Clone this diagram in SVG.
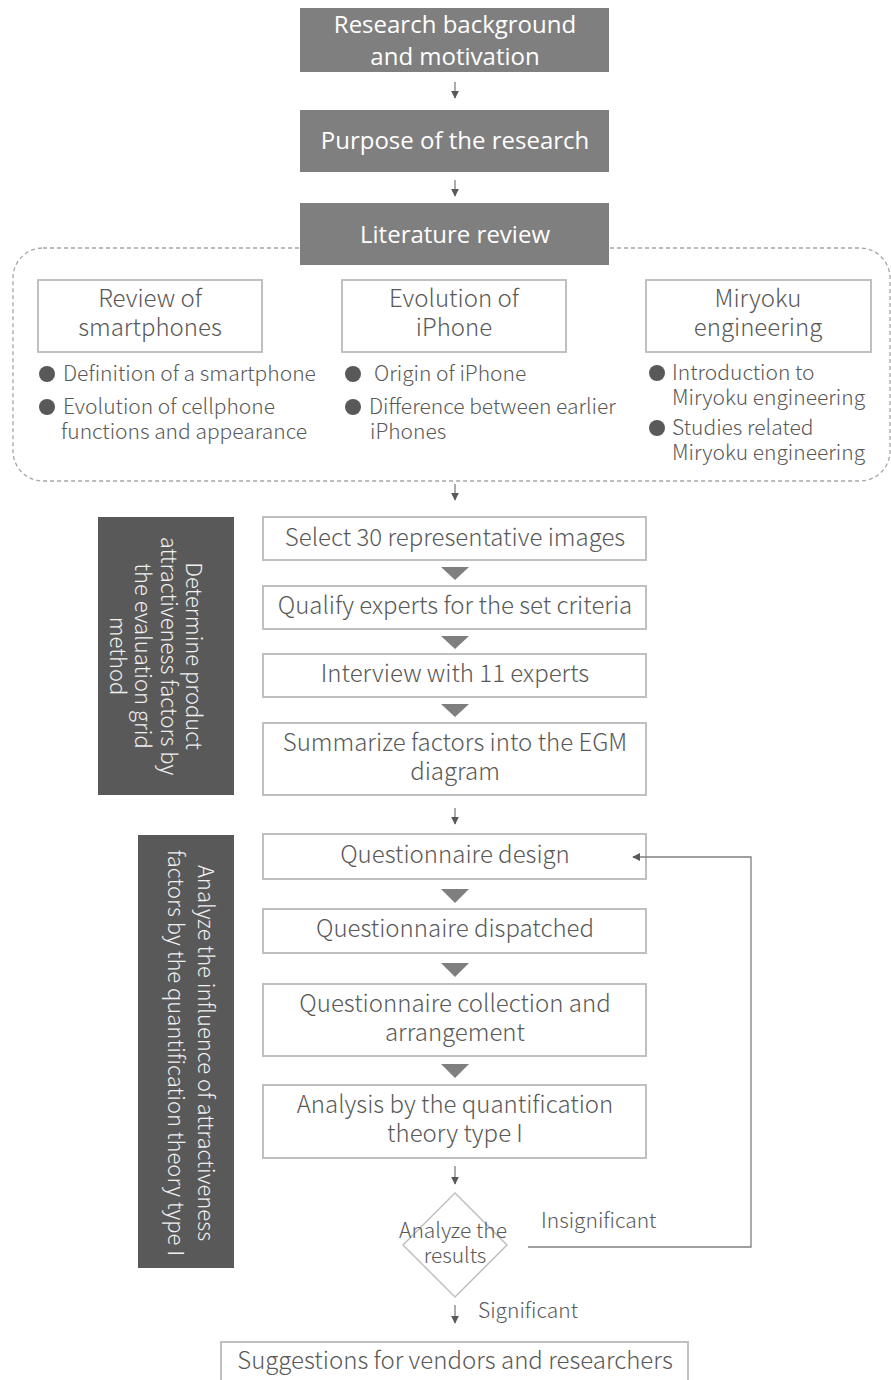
<svg xmlns="http://www.w3.org/2000/svg" width="891" height="1380" viewBox="0 0 891 1380">
<defs>
<style>
.top{fill:#7f7f7f}
.tt{fill:#fff;font-family:"Open Sans","Noto Sans",sans-serif;font-size:24px;text-anchor:middle}
.box{fill:#fff;stroke:#c0c0c0;stroke-width:2}
.bt{fill:#595959;font-family:"Noto Sans CJK SC","Noto Sans",sans-serif;font-weight:300;font-size:24px;text-anchor:middle}
.lt{fill:#595959;font-family:"Noto Sans CJK SC","Noto Sans",sans-serif;font-weight:300;font-size:21px}
.side{fill:#595959}
.st{fill:#f0f0f0;font-family:"Noto Sans CJK SC","Noto Sans",sans-serif;font-weight:300;font-size:22px;text-anchor:middle}
.dot{fill:#595959}
.tri{fill:#7f7f7f}
.ln{stroke:#7f7f7f;stroke-width:1.3;fill:none}
</style>
<marker id="ah" viewBox="0 0 10 10" refX="9" refY="5" markerWidth="8" markerHeight="8" markerUnits="userSpaceOnUse" orient="auto">
<path d="M0,0 L10,5 L0,10 z" fill="#595959"/>
</marker>
</defs>

<g id="lit-container">
<rect x="13" y="248" width="877" height="233" rx="30" ry="30" fill="none" stroke="#a6a6a6" stroke-width="1.3" stroke-dasharray="4,3"/>
</g>

<g id="n-background">
<rect class="top" x="300" y="8" width="309" height="64"/>
<text class="tt" x="455" y="33">Research background</text>
<text class="tt" x="455" y="65">and motivation</text>
</g>
<g id="n-purpose">
<rect class="top" x="300" y="110" width="309" height="62"/>
<text class="tt" x="455" y="149">Purpose of the research</text>
</g>
<g id="n-literature">
<rect class="top" x="300" y="203" width="309" height="62"/>
<text class="tt" x="455" y="243">Literature review</text>
</g>

<g id="n-review">
<rect class="box" x="38" y="280" width="224" height="72"/>
<text class="bt" x="150" y="307">Review of</text>
<text class="bt" x="150" y="336">smartphones</text>
<circle class="dot" cx="47" cy="374" r="8"/>
<text class="lt" x="63" y="381">Definition of a smartphone</text>
<circle class="dot" cx="47" cy="407" r="8"/>
<text class="lt" x="63" y="414">Evolution of cellphone</text>
<text class="lt" x="61" y="439">functions and appearance</text>
</g>
<g id="n-evolution">
<rect class="box" x="342" y="280" width="224" height="72"/>
<text class="bt" x="454" y="307">Evolution of</text>
<text class="bt" x="454" y="336">iPhone</text>
<circle class="dot" cx="353" cy="374" r="8"/>
<text class="lt" x="374" y="381">Origin of iPhone</text>
<circle class="dot" cx="353" cy="407" r="8"/>
<text class="lt" x="369" y="414">Difference between earlier</text>
<text class="lt" x="370" y="439">iPhones</text>
</g>
<g id="n-miryoku">
<rect class="box" x="646" y="280" width="225" height="72"/>
<text class="bt" x="758" y="307">Miryoku</text>
<text class="bt" x="758" y="336">engineering</text>
<circle class="dot" cx="657" cy="373" r="8"/>
<text class="lt" x="672" y="380">Introduction to</text>
<text class="lt" x="672" y="405">Miryoku engineering</text>
<circle class="dot" cx="657" cy="428" r="8"/>
<text class="lt" x="672" y="435">Studies related</text>
<text class="lt" x="672" y="460">Miryoku engineering</text>
</g>

<g id="n-side1">
<rect class="side" x="98" y="517" width="136" height="278"/>
<g transform="translate(166,656) rotate(90)">
<text class="st" x="0" y="-20">Determine product</text>
<text class="st" x="0" y="5">attractiveness factors by</text>
<text class="st" x="0" y="31">the evaluation grid</text>
<text class="st" x="0" y="56">method</text>
</g>
</g>
<g id="n-select">
<rect class="box" x="263" y="517" width="383" height="43"/>
<text class="bt" x="455" y="546">Select 30 representative images</text>
</g>
<g id="n-qualify">
<rect class="box" x="263" y="586" width="383" height="43"/>
<text class="bt" x="455" y="614">Qualify experts for the set criteria</text>
</g>
<g id="n-interview">
<rect class="box" x="263" y="654" width="383" height="43"/>
<text class="bt" x="455" y="682">Interview with 11 experts</text>
</g>
<g id="n-summarize">
<rect class="box" x="263" y="723" width="383" height="72"/>
<text class="bt" x="455" y="751">Summarize factors into the EGM</text>
<text class="bt" x="455" y="780">diagram</text>
</g>

<g id="n-side2">
<rect class="side" x="138" y="835" width="96" height="433"/>
<g transform="translate(186,1053) rotate(90)">
<text class="st" x="0" y="-12">Analyze the influence of attractiveness</text>
<text class="st" x="0" y="18">factors by the quantification theory type I</text>
</g>
</g>
<g id="n-qdesign">
<rect class="box" x="263" y="834" width="383" height="45"/>
<text class="bt" x="455" y="863">Questionnaire design</text>
</g>
<g id="n-qdispatch">
<rect class="box" x="263" y="909" width="383" height="44"/>
<text class="bt" x="455" y="937">Questionnaire dispatched</text>
</g>
<g id="n-qcollect">
<rect class="box" x="263" y="984" width="383" height="72"/>
<text class="bt" x="455" y="1012">Questionnaire collection and</text>
<text class="bt" x="455" y="1041">arrangement</text>
</g>
<g id="n-analysis">
<rect class="box" x="263" y="1085" width="383" height="73"/>
<text class="bt" x="455" y="1113">Analysis by the quantification</text>
<text class="bt" x="455" y="1142">theory type I</text>
</g>
<g id="n-decision">
<polygon points="455,1193 507,1245 455,1297 403,1245" fill="#fff" stroke="#c0c0c0" stroke-width="1.5"/>
<text class="lt" x="453" y="1238" text-anchor="middle">Analyze the</text>
<text class="lt" x="455" y="1263" text-anchor="middle">results</text>
</g>
<g id="n-suggest">
<rect class="box" x="221" y="1342" width="467" height="45"/>
<text class="bt" x="455" y="1369">Suggestions for vendors and researchers</text>
</g>

<g id="connectors">
<line class="ln" x1="455" y1="82" x2="455" y2="98" marker-end="url(#ah)"/>
<line class="ln" x1="455" y1="180" x2="455" y2="196" marker-end="url(#ah)"/>
<line class="ln" x1="455" y1="484" x2="455" y2="500" marker-end="url(#ah)"/>
<polygon class="tri" points="441,567 469,567 455,580"/>
<polygon class="tri" points="441,636 469,636 455,649"/>
<polygon class="tri" points="441,704 469,704 455,717"/>
<line class="ln" x1="455" y1="808" x2="455" y2="824" marker-end="url(#ah)"/>
<polygon class="tri" points="441,889 469,889 455,903"/>
<polygon class="tri" points="441,963 469,963 455,977"/>
<polygon class="tri" points="441,1064 469,1064 455,1078"/>
<line class="ln" x1="455" y1="1166" x2="455" y2="1184" marker-end="url(#ah)"/>
<polyline class="ln" points="528,1247 751,1247 751,857 633,857" marker-end="url(#ah)"/>
<text class="lt" x="541" y="1228">Insignificant</text>
<line class="ln" x1="455" y1="1305" x2="455" y2="1323" marker-end="url(#ah)"/>
<text class="lt" x="478" y="1318">Significant</text>
</g>
</svg>
